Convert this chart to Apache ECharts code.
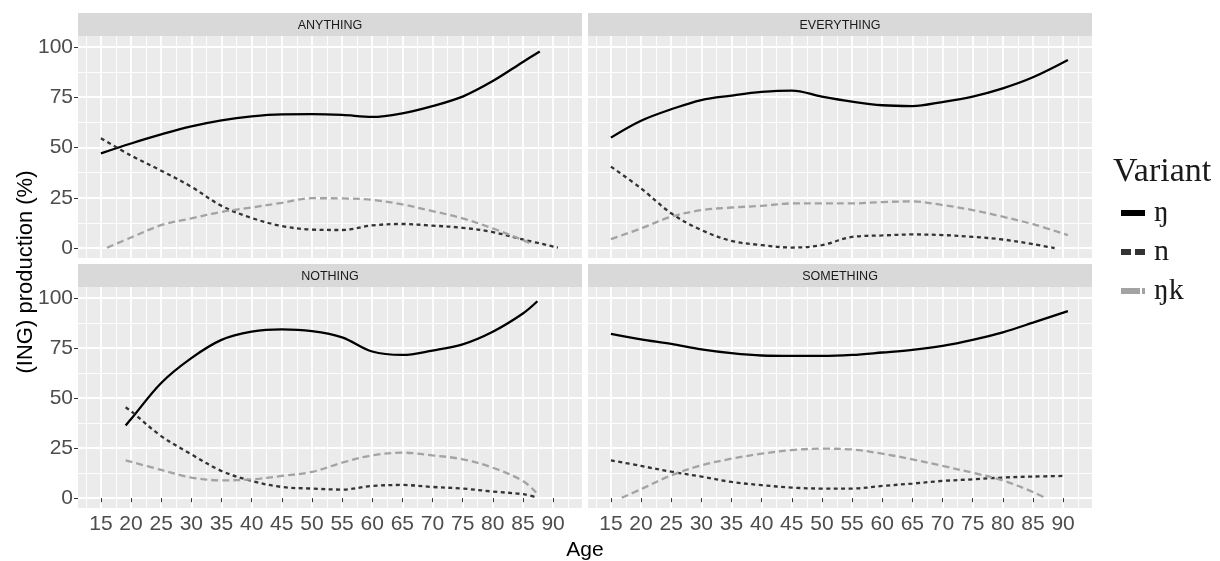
<!DOCTYPE html>
<html>
<head>
<meta charset="utf-8">
<script src="https://cdn.jsdelivr.net/npm/echarts@6/dist/echarts.min.js"></script>
<style>
  html, body { margin: 0; padding: 0; background: #fff; }
  #chart { width: 1220px; height: 561px; }
</style>
</head>
<body>
<div id="chart"></div>
<script>
// facets and variants
const words = ["ANYTHING", "EVERYTHING", "NOTHING", "SOMETHING"];
const variants = ["ŋ", "n", "ŋk"];

// tick positions
const xMajor = [15, 20, 25, 30, 35, 40, 45, 50, 55, 60, 65, 70, 75, 80, 85, 90];
const xMinor = [12.5, 17.5, 22.5, 27.5, 32.5, 37.5, 42.5, 47.5, 52.5, 57.5, 62.5, 67.5, 72.5, 77.5, 82.5, 87.5, 92.5];
const yMajor = [0, 25, 50, 75, 100];
const yMinor = [12.5, 37.5, 62.5, 87.5];

// [age, %]
const anythingEng = [[15, 47.1], [20, 52], [25, 56.5], [30, 60.5], [35, 63.5], [40, 65.5], [45, 66.5], [50, 66.6], [55, 66.2], [60, 65.2], [65, 67], [70, 70.6], [75, 75.3], [80, 83], [85, 92.5], [87.8, 97.7]];
const anythingN = [[15, 54.6], [20, 46], [25, 38.5], [30, 30.5], [35, 21], [40, 15], [45, 11], [50, 9.2], [55, 9], [60, 11.3], [65, 12], [70, 11.2], [75, 10.1], [80, 8], [85, 4.3], [90.8, 0.3]];
const anythingEngk = [[16, 0.2], [20, 5.3], [25, 11.4], [30, 14.8], [35, 18], [40, 20.2], [45, 22.5], [50, 24.8], [55, 24.7], [60, 24], [65, 21.7], [70, 18.4], [75, 14.8], [80, 9.8], [85, 4], [86.7, 1.7]];

const everythingEng = [[15, 54.9], [20, 63.3], [25, 69], [30, 73.6], [35, 75.8], [40, 77.6], [45, 78.3], [50, 75.3], [55, 72.8], [60, 71], [65, 70.6], [70, 72.6], [75, 75.3], [80, 79.4], [85, 84.9], [90.8, 93.5]];
const everythingN = [[15, 40.5], [20, 29.7], [25, 17.3], [30, 9], [35, 3.6], [40, 1.5], [45, 0.3], [50, 1.5], [55, 5.6], [60, 6.3], [65, 6.8], [70, 6.5], [75, 5.6], [80, 4.3], [85, 2], [88.6, 0]];
const everythingEngk = [[15, 4.5], [20, 9.8], [25, 15.6], [30, 18.9], [35, 20.2], [40, 21], [45, 22.2], [50, 22.2], [55, 22.2], [60, 22.9], [65, 23.2], [70, 21.4], [75, 18.9], [80, 15.6], [85, 11.9], [90.8, 6.5]];

const nothingEng = [[19.1, 36.3], [20, 39.5], [25, 57.5], [30, 69.9], [35, 79], [40, 83.1], [45, 84.3], [50, 83.4], [55, 80.3], [60, 73.2], [65, 71.5], [70, 73.7], [75, 76.8], [80, 83.1], [85, 92.2], [87.4, 98.3]];
const nothingN = [[19.1, 45.4], [20, 43.4], [25, 31], [30, 21.9], [35, 13.6], [40, 8.6], [45, 5.6], [50, 4.8], [55, 4.3], [60, 6.1], [65, 6.6], [70, 5.6], [75, 4.8], [80, 3.3], [85, 2], [87.4, 0.3]];
const nothingEngk = [[19.1, 18.9], [25, 14.1], [30, 10.3], [35, 8.9], [40, 9.4], [45, 11.1], [50, 13.1], [55, 17.7], [60, 21.4], [65, 22.7], [70, 21.4], [75, 19.4], [80, 15.2], [85, 8.6], [87.2, 2.8]];

const somethingEng = [[15, 82], [20, 79.3], [25, 77], [30, 74.3], [35, 72.4], [40, 71.2], [45, 71], [50, 71], [55, 71.5], [60, 72.7], [65, 74], [70, 76], [75, 79], [80, 82.8], [85, 87.6], [90.8, 93.4]];
const somethingN = [[15, 18.9], [20, 16.1], [25, 13.2], [30, 10.8], [35, 8.1], [40, 6.5], [45, 5.3], [50, 4.8], [55, 4.8], [60, 6.1], [65, 7.3], [70, 8.6], [75, 9.4], [80, 10.3], [85, 10.8], [90.1, 11.1]];
const somethingEngk = [[16.8, 0.2], [20, 4.5], [25, 11.4], [30, 16.4], [35, 19.7], [40, 22.2], [45, 24], [50, 24.7], [55, 24.3], [60, 22.2], [65, 19.4], [70, 16.1], [75, 12.7], [80, 8.9], [85, 3.1], [87, 0.2]];

const panelData = [
  [anythingEng, anythingN, anythingEngk],
  [everythingEng, everythingN, everythingEngk],
  [nothingEng, nothingN, nothingEngk],
  [somethingEng, somethingN, somethingEngk],
];

const SANS = "Liberation Sans, Arial, sans-serif";
const SERIF = "Liberation Serif, Times New Roman, serif";

const lineColors = ["#000000", "#333333", "#a3a3a3"];
const lineTypes = ["solid", [4, 3.5], [7, 4]];

// panel boxes (px)
const panels = [
  { left: 78, top: 36, height: 222, bottomRow: false, leftCol: true },
  { left: 588, top: 36, height: 222, bottomRow: false, leftCol: false },
  { left: 78, top: 287, height: 221, bottomRow: true, leftCol: true },
  { left: 588, top: 287, height: 221, bottomRow: true, leftCol: false },
];
const panelWidth = 504;

const grid = [];
const xAxis = [];
const yAxis = [];
const series = [];
const graphic = [];

panels.forEach((p, i) => {
  grid.push({
    left: p.left, top: p.top, width: panelWidth, height: p.height,
    show: true, backgroundColor: "#ebebeb", borderWidth: 0,
    outerBoundsMode: "none",
  });

  // major x (ticks, labels, thick grid)
  xAxis.push({
    type: "value", gridIndex: i, min: 11.2, max: 94.8, position: "bottom",
    axisLine: { show: false },
    axisTick: { show: p.bottomRow, customValues: xMajor, length: 4, lineStyle: { color: "#333333", width: 1 } },
    axisLabel: { show: p.bottomRow, customValues: xMajor, margin: 6, fontSize: 21, color: "#4d4d4d", fontFamily: SANS },
    splitLine: { show: true, lineStyle: { color: "#ffffff", width: 1.8 } },
  });
  // minor x (thin grid only)
  xAxis.push({
    type: "value", gridIndex: i, min: 11.2, max: 94.8, position: "top",
    axisLine: { show: false },
    axisTick: { show: false, customValues: xMinor },
    axisLabel: { show: false },
    splitLine: { show: true, lineStyle: { color: "#ffffff", width: 0.9 } },
  });

  yAxis.push({
    type: "value", gridIndex: i, min: -4.9, max: 105.4, position: "left",
    axisLine: { show: false },
    axisTick: { show: p.leftCol, customValues: yMajor, length: 4, lineStyle: { color: "#333333", width: 1 } },
    axisLabel: { show: p.leftCol, customValues: yMajor, margin: 5, fontSize: 21, color: "#4d4d4d", fontFamily: SANS },
    splitLine: { show: true, lineStyle: { color: "#ffffff", width: 1.8 } },
  });
  yAxis.push({
    type: "value", gridIndex: i, min: -4.9, max: 105.4, position: "right",
    axisLine: { show: false },
    axisTick: { show: false, customValues: yMinor },
    axisLabel: { show: false },
    splitLine: { show: true, lineStyle: { color: "#ffffff", width: 0.9 } },
  });

  panelData[i].forEach((data, v) => {
    series.push({
      type: "line",
      name: variants[v],
      xAxisIndex: 2 * i,
      yAxisIndex: 2 * i,
      data: data,
      symbol: "none",
      smooth: 0.35,
      silent: true,
      lineStyle: { color: lineColors[v], width: 2.3, type: lineTypes[v] },
      itemStyle: { color: lineColors[v] },
      z: 3 + v,
    });
  });

  // facet strip
  graphic.push({
    type: "rect",
    shape: { x: p.left, y: p.top - 23, width: panelWidth, height: 23 },
    style: { fill: "#d9d9d9" },
    silent: true,
  });
  graphic.push({
    type: "text",
    x: p.left + panelWidth / 2,
    y: p.top - 10.5,
    style: {
      text: words[i], fill: "#1a1a1a", fontSize: 12.5, fontFamily: SANS,
      align: "center", verticalAlign: "middle", textAlign: "center", textVerticalAlign: "middle",
    },
    silent: true,
  });
});

// axis titles
graphic.push({
  type: "text", x: 585, y: 550,
  style: {
    text: "Age", fill: "#000", fontSize: 21, fontFamily: SANS,
    align: "center", verticalAlign: "middle", textAlign: "center", textVerticalAlign: "middle",
  },
  silent: true,
});
graphic.push({
  type: "text", x: 26, y: 272, rotation: Math.PI / 2,
  style: {
    text: "(ING) production (%)", fill: "#000", fontSize: 22, fontFamily: SANS,
    align: "center", verticalAlign: "middle", textAlign: "center", textVerticalAlign: "middle",
  },
  silent: true,
});

const chart = echarts.init(document.getElementById("chart"), null, { renderer: "canvas" });
chart.setOption({
  animation: false,
  backgroundColor: "#ffffff",
  title: {
    text: "Variant",
    left: 1108,
    top: 150,
    textStyle: { fontFamily: SERIF, fontSize: 34, fontWeight: "normal", color: "#1a1a1a" },
  },
  legend: {
    orient: "vertical",
    left: 1116,
    top: 193,
    itemWidth: 24,
    itemHeight: 6,
    itemGap: 9,
    selectedMode: false,
    textStyle: { fontFamily: SERIF, fontSize: 30, color: "#1a1a1a", lineHeight: 28, padding: [0, 0, 0, 4] },
    data: [
      { name: "ŋ", icon: "rect" },
      { name: "n", icon: "path://M0 0H10V6H0Z M14 0H24V6H14Z" },
      { name: "ŋk", icon: "path://M0 0H19V6H0Z M21 0H24V6H21Z" },
    ],
  },
  grid: grid,
  xAxis: xAxis,
  yAxis: yAxis,
  series: series,
  graphic: graphic,
});
</script>
</body>
</html>
